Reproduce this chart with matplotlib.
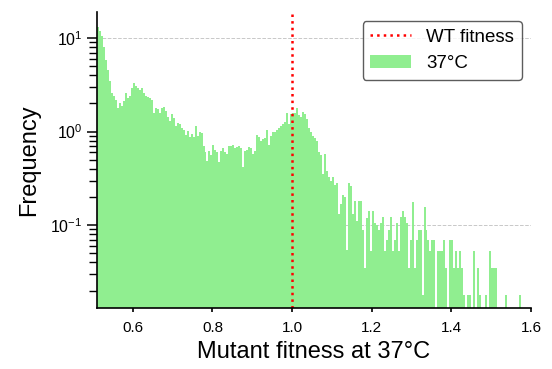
import numpy as np
import matplotlib
matplotlib.use("Agg")
import matplotlib.pyplot as plt

plt.rcParams.update({
    "font.family": ["Liberation Sans", "DejaVu Sans"],
    "mathtext.fontset": "custom",
    "mathtext.rm": "Liberation Sans",
    "mathtext.default": "regular",
    "font.size": 11,
})

# histogram of mutant fitness at 37C, bin width 0.005 from 0.51 to 1.60
bin_lo, bin_hi = 0.51, 1.60
freq = [
    13, 12, 10.5, 8.0, 5.8, 4.6, 3.5, 2.6, 2.4, 2.2,
    1.8, 2.0, 1.9, 2.1, 2.6, 2.3, 2.4, 2.9, 3.3, 3.1,
    2.9, 2.8, 2.9, 2.6, 2.4, 2.35, 2.3, 2.2, 1.6, 1.8,
    1.75, 1.6, 1.8, 1.85, 1.65, 1.45, 1.3, 1.55, 1.4, 1.15,
    1.25, 1.2, 1.1, 1.05, 0.92, 1.02, 0.87, 0.95, 0.88, 1.15,
    0.9, 0.98, 0.97, 0.7, 0.6, 0.48, 0.62, 0.56, 0.72, 0.64,
    0.6, 0.47, 0.62, 0.66, 0.6, 0.58, 0.7, 0.71, 0.72, 0.66,
    0.68, 0.7, 0.67, 0.42, 0.62, 0.64, 0.68, 0.66, 0.57, 0.62,
    0.92, 0.88, 0.8, 0.84, 0.86, 1.04, 0.72, 0.9, 0.99, 1.0,
    1.04, 1.08, 1.15, 1.22, 1.26, 1.58, 1.2, 1.55, 1.58, 1.6,
    1.78, 1.5, 1.42, 1.62, 1.55, 1.35, 1.1, 1.0, 0.9, 0.86,
    0.8, 0.6, 0.56, 0.35, 0.58, 0.38, 0.33, 0.3, 0.33, 0.27,
    0.28, 0.13, 0.17, 0.21, 0.2, 0.054, 0.28, 0.26, 0.13, 0.18,
    0.11, 0.18, 0.18, 0.088, 0.035, 0.12, 0.14, 0.053, 0.14, 0.105,
    0.1, 0.088,
    0.105, 0.123, 0.053, 0.07, 0.088, 0.123, 0.053, 0.07, 0.105, 0.053,
    0.123, 0.14, 0.123, 0.105, 0.035, 0.07, 0.175, 0.035, 0.07, 0.088,
    0.088, 0.018, 0.158, 0.088, 0.07, 0.053, 0.07, 0.07, 0, 0.053,
    0.053, 0.053, 0.07, 0.035, 0, 0.07, 0.07, 0.035,
    0.053, 0.035, 0.053, 0.035, 0.018, 0, 0.018, 0.018, 0, 0.053,
    0, 0.035, 0.018, 0, 0, 0.018, 0, 0.053, 0.035, 0.035,
    0.035, 0, 0, 0, 0, 0.018, 0, 0, 0, 0,
    0, 0, 0.018, 0, 0, 0, 0, 0,
]
wt_fitness = 1.0
xticks = [0.6, 0.8, 1.0, 1.2, 1.4, 1.6]
guide_levels = [10, 0.1]   # faint dashed guides seen in the original

edges = np.linspace(bin_lo, bin_hi, len(freq) + 1)

fig = plt.figure(figsize=(5.52, 3.69), dpi=100)
ax = fig.add_axes([0.1757, 0.1653, 0.962 - 0.1757, 0.9675 - 0.1653])
ax.set_yscale("log")

for g in guide_levels:
    ax.axhline(g, ls="--", color="#c8c8c8", lw=0.7, zorder=1)
ax.stairs(freq, edges, fill=True, baseline=1e-4, color="#90ee90", lw=0,
          label="37°C", zorder=3)
ax.axvline(wt_fitness, color="red", ls=":", lw=1.8, zorder=4, label="WT fitness")

ax.set_xlim(0.51, 1.6)
ax.set_ylim(0.013, 19)
ax.set_xticks(xticks)
ax.set_xticklabels([f"{t:.1f}" for t in xticks])

for s in ["top", "right"]:
    ax.spines[s].set_visible(False)
for s in ["left", "bottom"]:
    ax.spines[s].set_linewidth(1.2)
    ax.spines[s].set_zorder(5)

ax.tick_params(axis="x", direction="out", length=3, width=1.2, labelsize=11, pad=6)
ax.tick_params(axis="y", which="major", direction="out", length=7, width=1.1, labelsize=11.5)
ax.tick_params(axis="y", which="minor", direction="out", length=6, width=1.0)

ax.set_xlabel("Mutant fitness at 37°C", fontsize=17, labelpad=5)
ax.set_ylabel("Frequency", fontsize=17, labelpad=7)

h, l = ax.get_legend_handles_labels()
leg = ax.legend(h[::-1], l[::-1], loc="upper right", fontsize=13.5, fancybox=True,
                edgecolor="#333333", handlelength=2.2)
leg.get_frame().set_linewidth(1.0)
leg.set_zorder(6)

fig.savefig("out.png", dpi=100)
